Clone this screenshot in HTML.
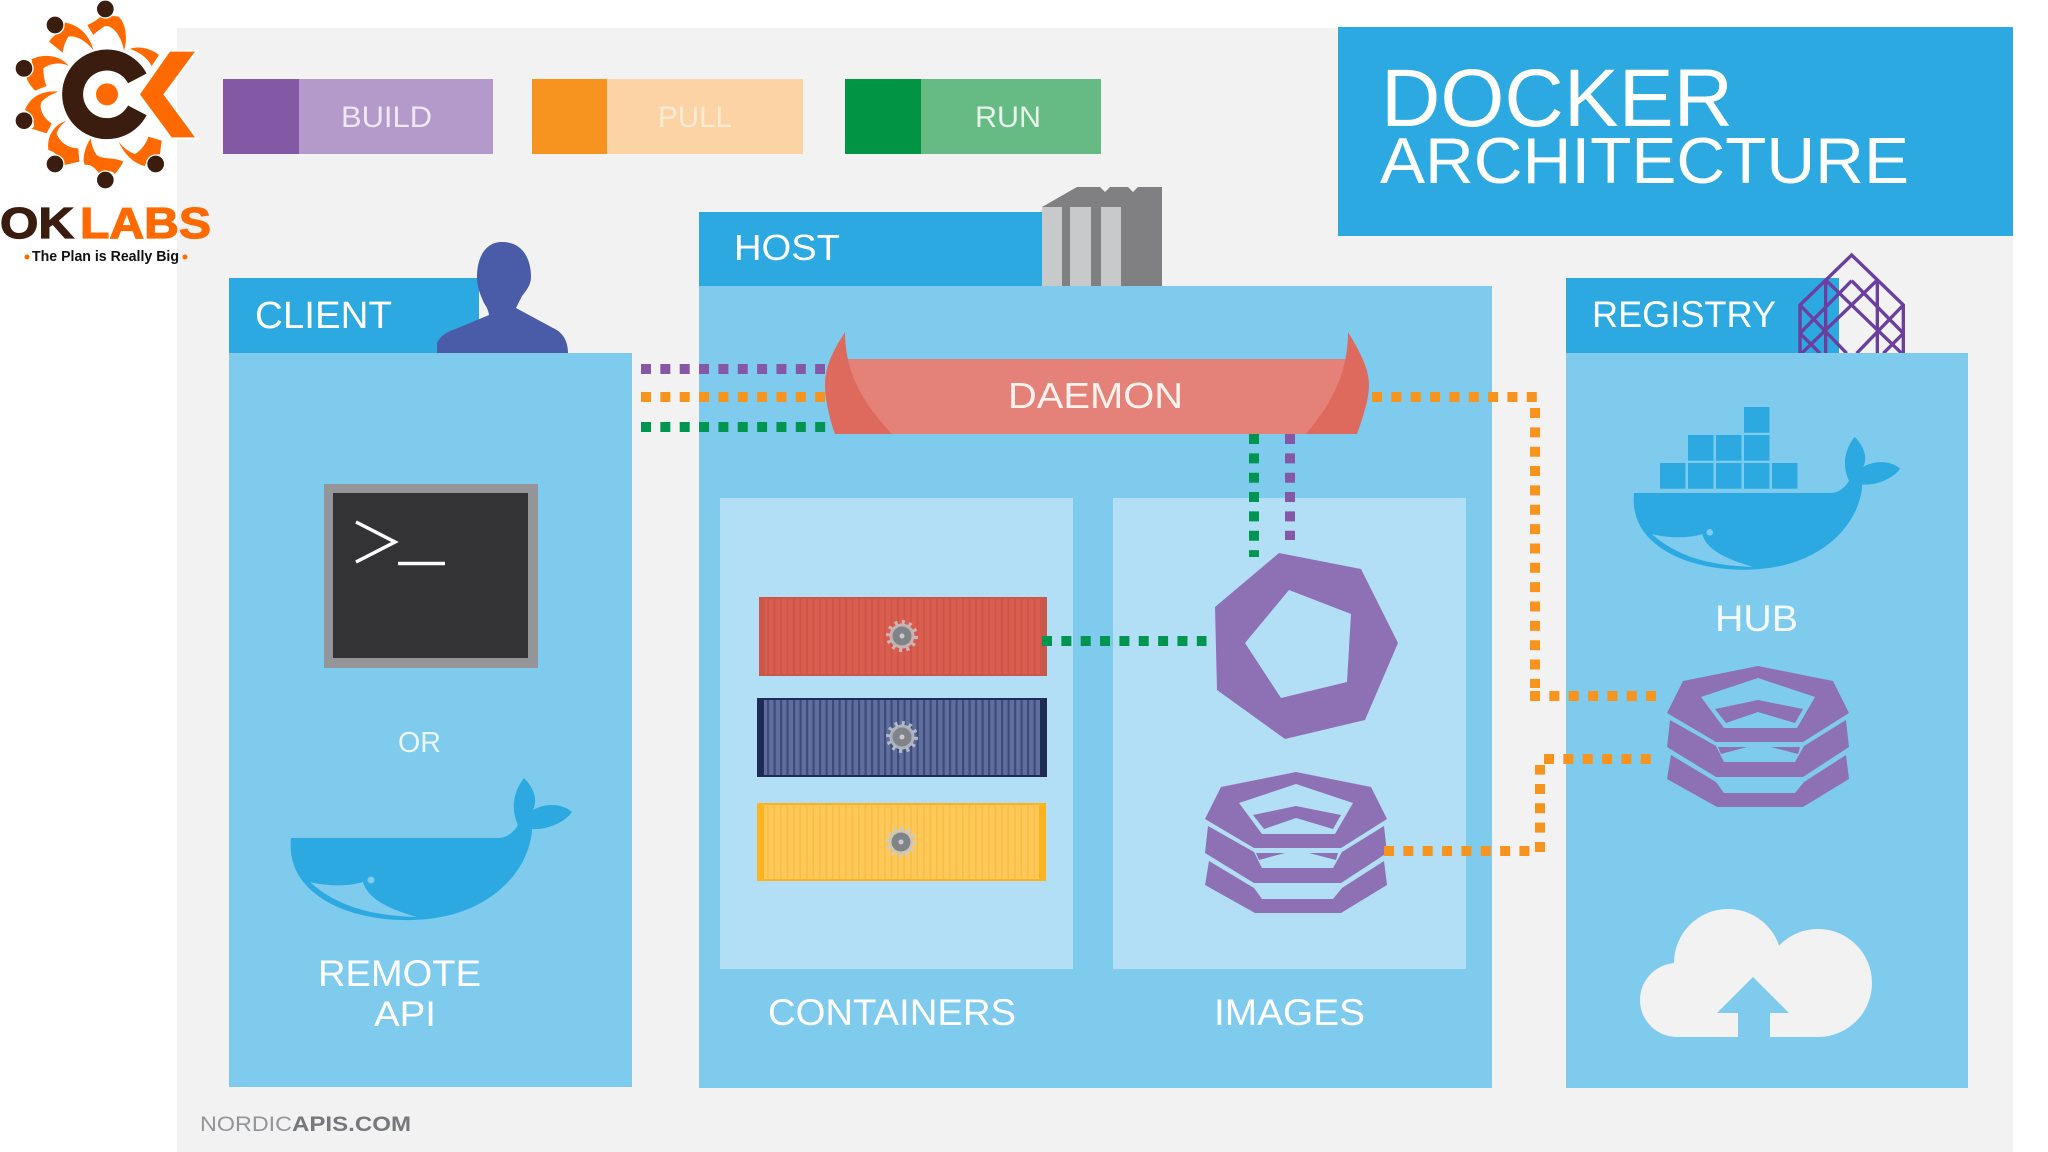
<!DOCTYPE html>
<html><head><meta charset="utf-8"><style>
html,body{margin:0;padding:0;background:#fff}
svg{display:block}
text{font-family:"Liberation Sans",sans-serif}
</style></head><body>
<svg xmlns="http://www.w3.org/2000/svg" width="2048" height="1152" viewBox="0 0 2048 1152">
<defs>
<pattern id="pr" width="6.5" height="10" patternUnits="userSpaceOnUse"><rect width="6.5" height="10" fill="#DA5E50"/><rect width="2" height="10" fill="#CF5548"/></pattern>
<pattern id="pn" width="6.5" height="10" patternUnits="userSpaceOnUse"><rect width="6.5" height="10" fill="#5F6E9C"/><rect width="2.2" height="10" fill="#3D4B7B"/></pattern>
<pattern id="py" width="6.5" height="10" patternUnits="userSpaceOnUse"><rect width="6.5" height="10" fill="#FEC958"/><rect width="1.6" height="10" fill="#F9BF45"/></pattern>
<g id="stack" fill="#8E71B5">
<path fill-rule="evenodd" d="M1296,772L1371,787L1387,819L1341,848L1254,848L1205,819L1221,787ZM1296,784L1239,803L1262,834L1335,834L1353,803Z"/>
<path d="M1296,806L1341,815L1333,829L1296,818L1264,829L1253,815Z"/>
<path d="M1208,826L1254,852L1262,868L1333,868L1342,852L1384,826L1387,853L1341,883L1254,883L1205,853Z"/>
<path d="M1256,853L1285,853L1259,860ZM1309,853L1338,853L1336,860Z"/>
<path d="M1209,861L1254,888L1262,899L1333,899L1342,888L1384,861L1387,885L1341,913L1255,913L1205,885Z"/>
</g>
<g id="whale">
<path fill="#2BA9E0" d="M291,838L498,838C507,838 514,832 518,825C512,812 511,795 524,778C534,788 538,800 533,810C545,803 562,803 572,812C565,822 548,830 532,829C530,870 490,918 413,920C350,922 285,895 291,838Z"/>
<path fill="#7FCBEE" d="M310,882C330,887 350,886 363,882C368,900 392,910 417,917C370,916 335,905 310,882Z"/>
<circle cx="371" cy="880" r="3.5" fill="#7FCBEE"/>
</g>
<g id="gear"><circle r="14" fill="none" stroke="#C9CDD0" stroke-width="4" stroke-dasharray="3 4.3" opacity=".8"/><circle r="12.5" fill="#C3C8CC" opacity=".8"/><circle r="9.5" fill="#808388"/><circle r="2.5" fill="#C9CDD0"/></g>
</defs>

<rect width="2048" height="1152" fill="#fff"/>
<rect x="177" y="28" width="1836" height="1124" fill="#F2F2F3"/>

<!-- legend -->
<rect x="223" y="79" width="270" height="75" fill="#B49ACA"/><rect x="223" y="79" width="76" height="75" fill="#8359A6"/>
<rect x="532" y="79" width="271" height="75" fill="#FCD3A4"/><rect x="532" y="79" width="75" height="75" fill="#F79420"/>
<rect x="845" y="79" width="256" height="75" fill="#66BB85"/><rect x="845" y="79" width="76" height="75" fill="#009444"/>
<g fill="#EFE8F4" font-size="30">
<text x="341" y="127" textLength="91" lengthAdjust="spacingAndGlyphs">BUILD</text>
<text x="658" y="127" textLength="74" lengthAdjust="spacingAndGlyphs" fill="#FDEBD6">PULL</text>
<text x="975" y="127" textLength="66" lengthAdjust="spacingAndGlyphs" fill="#E6F4EA">RUN</text>
</g>

<!-- title -->
<rect x="1338" y="27" width="675" height="209" fill="#2BA9E0"/>
<text x="1381" y="126" font-size="82" fill="#fff" textLength="352" lengthAdjust="spacingAndGlyphs">DOCKER</text>
<text x="1380" y="183" font-size="65" fill="#fff" textLength="529" lengthAdjust="spacingAndGlyphs">ARCHITECTURE</text>

<!-- client -->
<rect x="229" y="278" width="250" height="75" fill="#2BA9E0"/>
<path fill="#4A5BA8" d="M437,353L437,343C441,335 447,332 458,328L489,315C488,308 485,305 484,303C481,296 477,288 477,277C477,258 485,242 502,242C522,242 531,258 531,277C531,285 526,291 522,296L516,308L553,328C562,332 568,340 568,353Z"/>
<rect x="229" y="353" width="403" height="734" fill="#7FCBEE"/>
<text x="255" y="328" font-size="38" fill="#fff" textLength="137" lengthAdjust="spacingAndGlyphs">CLIENT</text>
<rect x="324" y="484" width="214" height="184" fill="#939598"/>
<rect x="333" y="493" width="195" height="165" fill="#333335"/>
<polyline points="356,522 395,542 356,562" fill="none" stroke="#fff" stroke-width="3.5"/>
<line x1="398" y1="563.5" x2="445" y2="563.5" stroke="#fff" stroke-width="3.5"/>
<text x="398" y="752" font-size="29" fill="#EAF7FD" textLength="43" lengthAdjust="spacingAndGlyphs">OR</text>
<use href="#whale"/>
<text x="318" y="986" font-size="37" fill="#fff" textLength="163" lengthAdjust="spacingAndGlyphs">REMOTE</text>
<text x="374" y="1026" font-size="35" fill="#fff" textLength="62" lengthAdjust="spacingAndGlyphs">API</text>

<!-- host -->
<rect x="699" y="212" width="343" height="74" fill="#2BA9E0"/>
<path fill="#808082" d="M1042,207L1077,187L1100,187L1105,192L1110,187L1128,187L1133,192L1138,187L1162,187L1162,286L1042,286Z"/>
<g fill="#C8C9CB"><rect x="1042" y="207" width="20" height="79"/><rect x="1070" y="207" width="21" height="79"/><rect x="1101" y="207" width="20" height="79"/></g>
<rect x="699" y="286" width="793" height="802" fill="#7FCBEE"/>
<text x="734" y="260" font-size="36" fill="#fff" textLength="106" lengthAdjust="spacingAndGlyphs">HOST</text>
<rect x="720" y="498" width="353" height="471" fill="#B2DFF5"/>
<rect x="1113" y="498" width="353" height="471" fill="#B2DFF5"/>
<text x="768" y="1025" font-size="37" fill="#fff" textLength="248" lengthAdjust="spacingAndGlyphs">CONTAINERS</text>
<text x="1214" y="1025" font-size="37" fill="#fff" textLength="151" lengthAdjust="spacingAndGlyphs">IMAGES</text>

<!-- daemon -->
<rect x="845" y="359" width="503" height="75" fill="#E4827A"/>
<path fill="#DE6A5E" d="M845,332C830,355 825,370 825,385C825,400 830,420 835,434L892,434C865,405 845,375 845,332Z"/>
<path fill="#DE6A5E" d="M1348,332C1362,355 1369,370 1369,385C1369,400 1362,420 1357,434L1306,434C1330,405 1348,375 1348,332Z"/>
<text x="1008" y="408" font-size="36" fill="#FDF3EE" textLength="175" lengthAdjust="spacingAndGlyphs">DAEMON</text>

<!-- containers -->
<rect x="759" y="597" width="288" height="79" fill="#C9584B"/><rect x="765" y="599" width="276" height="75" fill="url(#pr)"/>
<rect x="757" y="698" width="290" height="79" fill="#1E2C55"/><rect x="764" y="700" width="276" height="75" fill="url(#pn)"/>
<rect x="757" y="803" width="289" height="78" fill="#FBB41F"/><rect x="764" y="805" width="275" height="74" fill="url(#py)"/>
<use href="#gear" x="902" y="636"/><use href="#gear" x="902" y="737"/><use href="#gear" x="901" y="842"/>

<!-- image icons -->
<path fill="#8E71B5" fill-rule="evenodd" d="M1279,553L1361,569L1398,643L1365,720L1285,739L1217,690L1215,607ZM1289,590L1245,643L1281,698L1347,682L1351,614Z"/>
<use href="#stack"/>

<!-- registry -->
<rect x="1566" y="278" width="273" height="75" fill="#2BA9E0"/>
<g transform="translate(1790,250) scale(.33333)" fill="none" stroke="#6B3FA0" stroke-width="10">
<path d="M30,310L30,165L185,15L340,165L340,310"/>
<path d="M107,90L107,310M262,90L262,310"/>
<path d="M107,90L335,310M262,90L35,310M185,92L30,250M185,92L340,250M30,165L170,310M340,165L200,310M30,250L90,310M340,250L280,310"/>
</g>
<rect x="1566" y="353" width="402" height="735" fill="#7FCBEE"/>
<text x="1592" y="327" font-size="37" fill="#fff" textLength="184" lengthAdjust="spacingAndGlyphs">REGISTRY</text>
<g fill="#2BA9E0">
<rect x="1660" y="463" width="25.5" height="25.7"/><rect x="1688" y="463" width="25.5" height="25.7"/><rect x="1716" y="463" width="25.5" height="25.7"/><rect x="1744" y="463" width="25.5" height="25.7"/><rect x="1772" y="463" width="25.5" height="25.7"/>
<rect x="1688" y="435" width="25.5" height="25.7"/><rect x="1716" y="435" width="25.5" height="25.7"/><rect x="1744" y="435" width="25.5" height="25.7"/>
<rect x="1744" y="407" width="25.5" height="25.7"/>
</g>
<use href="#whale" transform="translate(1634,493) scale(.947,.935) translate(-291,-838)"/>
<text x="1715" y="631" font-size="37" fill="#F4FBFE" textLength="83" lengthAdjust="spacingAndGlyphs">HUB</text>
<use href="#stack" transform="translate(462,-106)"/>
<g fill="#F2F2F3"><circle cx="1677" cy="1000" r="37"/><circle cx="1728" cy="963" r="54"/><circle cx="1818" cy="983" r="54"/><rect x="1677" y="975" width="141" height="62"/></g>
<path fill="#7FCBEE" d="M1753,977L1789,1013L1770,1013L1770,1038L1738,1038L1738,1013L1717,1013Z"/>

<!-- connectors -->
<g fill="none" stroke-width="10" stroke-dasharray="10 9.35">
<line x1="641" y1="369" x2="825" y2="369" stroke="#8557A6"/>
<line x1="641" y1="397" x2="825" y2="397" stroke="#F7941E"/>
<line x1="641" y1="427" x2="832" y2="427" stroke="#009651"/>
<line x1="1254" y1="434" x2="1254" y2="557" stroke="#009651"/>
<line x1="1290" y1="434" x2="1290" y2="540" stroke="#8557A6"/>
<line x1="1042" y1="641" x2="1206.5" y2="641" stroke="#009651"/>
<line x1="1372" y1="397" x2="1537" y2="397" stroke="#F7941E"/>
<line x1="1535" y1="408" x2="1535" y2="688" stroke="#F7941E"/>
<line x1="1530" y1="696" x2="1656" y2="696" stroke="#F7941E"/>
<line x1="1384" y1="851" x2="1531" y2="851" stroke="#F7941E"/>
<line x1="1540" y1="852" x2="1540" y2="765" stroke="#F7941E"/>
<line x1="1544" y1="759" x2="1651" y2="759" stroke="#F7941E"/>
</g>

<text x="200" y="1131" font-size="21" fill="#939598" textLength="92" lengthAdjust="spacingAndGlyphs">NORDIC</text>
<text x="292" y="1131" font-size="21" font-weight="bold" fill="#77787B" textLength="119" lengthAdjust="spacingAndGlyphs">APIS.COM</text>

<!-- logo -->
<g transform="scale(.33333)">
<g fill="#FF6A00">
<path d="M262,75C285,65 298,55 305,45C318,55 335,45 355,50C375,65 385,110 372,152C365,110 340,75 315,78C305,85 290,95 280,105Z"/>
<path d="M195,68C240,75 270,110 280,150C260,125 230,105 205,110C195,125 190,145 188,158L147,125C160,105 175,100 190,90Z"/>
<path d="M95,178C130,160 180,165 207,198C180,185 150,190 130,205C130,225 135,250 140,258L105,272C90,255 80,240 80,232C90,225 100,215 98,205Z"/>
<path d="M175,275C130,270 90,290 75,330C85,335 98,345 100,365C105,380 100,385 92,385L140,400L155,370C130,355 115,325 125,305C140,290 160,280 175,275Z"/>
<path d="M200,362C160,375 140,410 145,450C165,455 185,475 195,495L238,485L235,445C200,445 175,420 170,400C175,385 185,372 200,362Z"/>
<path d="M272,415C255,440 245,480 255,495C275,490 295,515 300,525C315,510 335,510 345,522C355,510 365,495 370,485C340,470 310,480 290,465C280,450 275,435 272,415Z"/>
<path d="M355,422C365,450 395,490 435,498C440,480 460,465 480,462L485,422L445,410C440,430 420,455 405,462C385,455 365,440 355,422Z"/>
<path d="M390,147C420,135 460,150 477,165L455,198C440,170 415,155 390,147Z"/>
</g>
<g fill="#3A1D0E" stroke="#fff" stroke-width="4">
<circle cx="316" cy="27" r="27"/><circle cx="165" cy="75" r="27"/><circle cx="72" cy="205" r="27"/><circle cx="72" cy="362" r="27"/><circle cx="165" cy="492" r="27"/><circle cx="467" cy="492" r="27"/><circle cx="316" cy="540" r="27"/>
</g>
<path d="M412,235A103,103 0 1 0 412,331" fill="none" stroke="#3A1D0E" stroke-width="63"/>
<path fill="#FF6A00" stroke="#fff" stroke-width="12" paint-order="stroke" d="M510,155L585,155L490,283L585,412L515,412L420,283Z"/>
<circle cx="321" cy="283" r="33" fill="#FF6A00"/>
</g>
<text x="0" y="238" font-size="44" font-weight="bold" fill="#3A1D0E" stroke="#3A1D0E" stroke-width="1.2" textLength="74" lengthAdjust="spacingAndGlyphs">OK</text>
<text x="80" y="238" font-size="44" font-weight="bold" fill="#FF6A00" stroke="#FF6A00" stroke-width="1.2" textLength="131" lengthAdjust="spacingAndGlyphs">LABS</text>
<text x="32" y="261" font-size="15" font-weight="bold" fill="#111" textLength="147" lengthAdjust="spacingAndGlyphs">The Plan is Really Big</text>
<circle cx="27" cy="257" r="2.5" fill="#FF6A00"/><circle cx="185" cy="257" r="2.5" fill="#FF6A00"/>
</svg>
</body></html>
